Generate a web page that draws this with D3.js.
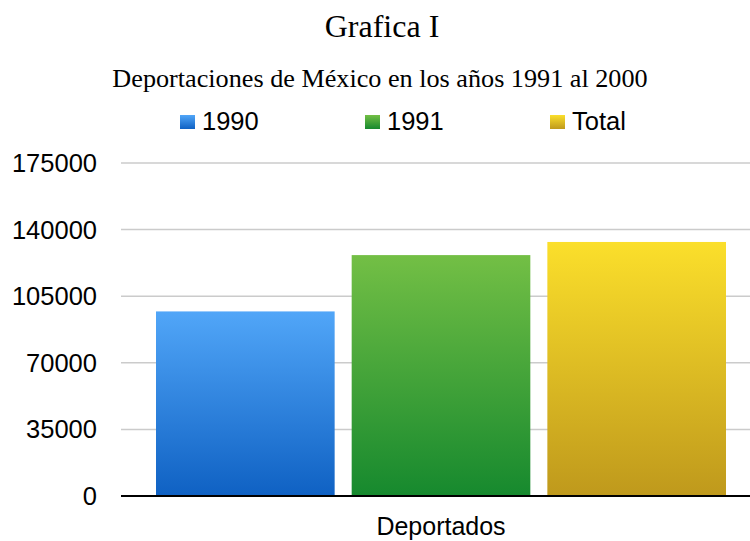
<!DOCTYPE html>
<html>
<head>
<meta charset="utf-8">
<script src="https://cdn.jsdelivr.net/npm/d3@7"></script>
<style>
  body { margin: 0; background: #fff; }
  svg { display: block; }
</style>
</head>
<body>
<svg id="chart"></svg>
<script>
  // Data
  var categories = ['Deportados']
  var series = ['1990', '1991', 'Total']
  var values1990 = [97000]
  var values1991 = [126600]
  var valuesTotal = [133500]
  var yTicks = [0, 35000, 70000, 105000, 140000, 175000]

  var WIDTH = 750
  var HEIGHT = 541
  var margin = { top: 163, right: -11, bottom: 45, left: 121 }

  var seriesValues = [values1990, values1991, valuesTotal]
  var gradients = [
    { top: '#51a6f8', bottom: '#0f61c3' },
    { top: '#73bf45', bottom: '#16892e' },
    { top: '#fbdf2b', bottom: '#bf991c' }
  ]

  var svg = d3.select('#chart')
    .attr('width', WIDTH)
    .attr('height', HEIGHT)

  var defs = svg.append('defs')
  gradients.forEach(function (g, i) {
    var lg = defs.append('linearGradient')
      .attr('id', 'grad' + i)
      .attr('x1', 0).attr('y1', 0).attr('x2', 0).attr('y2', 1)
    lg.append('stop').attr('offset', '0%').attr('stop-color', g.top)
    lg.append('stop').attr('offset', '100%').attr('stop-color', g.bottom)
  })

  var x0 = d3.scaleBand()
    .domain(categories)
    .range([margin.left, WIDTH - margin.right])
    .paddingOuter(0.0614)
    .paddingInner(0)

  var x1 = d3.scaleBand()
    .domain(series)
    .range([0, x0.bandwidth()])
    .paddingInner(0.087)
    .paddingOuter(0)

  var y = d3.scaleLinear()
    .domain([0, 175000])
    .range([HEIGHT - margin.bottom, margin.top])

  // Titles
  svg.append('text')
    .attr('x', 382)
    .attr('y', 37)
    .attr('text-anchor', 'middle')
    .style('font-family', '"Liberation Serif", "Times New Roman", serif')
    .style('font-size', '32px')
    .attr('fill', '#000')
    .text('Grafica I')

  svg.append('text')
    .attr('x', 380)
    .attr('y', 87)
    .attr('text-anchor', 'middle')
    .style('font-family', '"Liberation Serif", "Times New Roman", serif')
    .style('font-size', '26.2px')
    .attr('fill', '#000')
    .text('Deportaciones de México en los años 1991 al 2000')

  // Legend
  var legendX = [180, 365, 550]
  var legend = svg.append('g')
    .selectAll('g')
    .data(series)
    .enter().append('g')
    .attr('transform', function (d, i) { return 'translate(' + legendX[i] + ',115)' })
  legend.append('rect')
    .attr('width', 15)
    .attr('height', 14)
    .attr('fill', function (d, i) { return 'url(#grad' + i + ')' })
  legend.append('text')
    .attr('x', 22)
    .attr('y', 15)
    .style('font-family', '"Liberation Sans", Arial, sans-serif')
    .style('font-size', '25.5px')
    .attr('fill', '#000')
    .text(function (d) { return d })

  // Grid lines
  svg.append('g')
    .selectAll('line')
    .data(yTicks.slice(1))
    .enter().append('line')
    .attr('x1', margin.left)
    .attr('x2', WIDTH)
    .attr('y1', function (d) { return y(d) })
    .attr('y2', function (d) { return y(d) })
    .attr('stroke', '#cbcbcb')
    .attr('stroke-width', 1.5)

  // Y axis labels
  svg.append('g')
    .selectAll('text')
    .data(yTicks)
    .enter().append('text')
    .attr('x', 97)
    .attr('y', function (d) { return y(d) + 9 })
    .attr('text-anchor', 'end')
    .style('font-family', '"Liberation Sans", Arial, sans-serif')
    .style('font-size', '25.5px')
    .attr('fill', '#000')
    .text(function (d) { return d })

  // Bars
  var group = svg.append('g')
    .selectAll('g')
    .data(categories)
    .enter().append('g')
    .attr('transform', function (d) { return 'translate(' + x0(d) + ',0)' })

  group.selectAll('rect')
    .data(function (d, ci) {
      return series.map(function (s, si) { return { key: s, idx: si, value: seriesValues[si][ci] } })
    })
    .enter().append('rect')
    .attr('x', function (d) { return x1(d.key) })
    .attr('width', x1.bandwidth())
    .attr('y', function (d) { return y(d.value) })
    .attr('height', function (d) { return y(0) - y(d.value) })
    .attr('fill', function (d) { return 'url(#grad' + d.idx + ')' })

  // Zero axis line
  svg.append('line')
    .attr('x1', margin.left)
    .attr('x2', WIDTH)
    .attr('y1', y(0))
    .attr('y2', y(0))
    .attr('stroke', '#000')
    .attr('stroke-width', 2)

  // Category label
  svg.append('g')
    .selectAll('text')
    .data(categories)
    .enter().append('text')
    .attr('x', function (d) { return x0(d) + x0.bandwidth() / 2 })
    .attr('y', 535)
    .attr('text-anchor', 'middle')
    .style('font-family', '"Liberation Sans", Arial, sans-serif')
    .style('font-size', '25px')
    .attr('fill', '#000')
    .text(function (d) { return d })
</script>
</body>
</html>
